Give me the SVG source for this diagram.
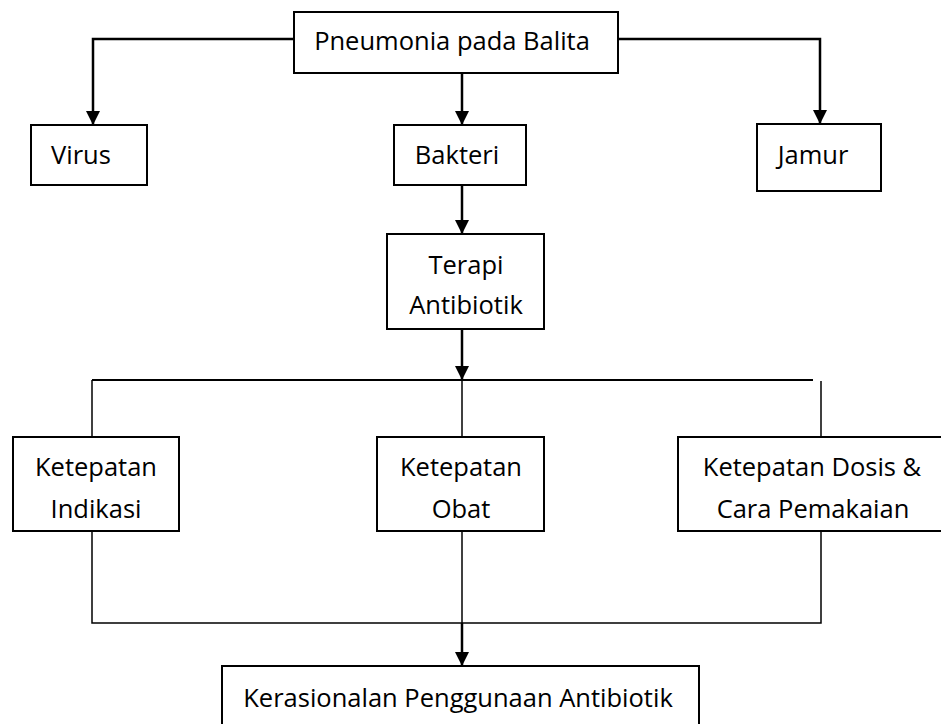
<svg xmlns="http://www.w3.org/2000/svg" width="941" height="724" viewBox="0 0 941 724">
<style>
.box{fill:#fff;stroke:#000;stroke-width:2}
.t{font-family:"Open Sans","Liberation Sans",sans-serif;font-size:25.5px;fill:#000;text-anchor:middle}
.c{fill:none;stroke:#000;stroke-width:2.5}
.thin{fill:none;stroke:#000;stroke-width:1.5}
</style>
<defs>
<marker id="ah" markerUnits="userSpaceOnUse" markerWidth="14" markerHeight="14" viewBox="0 0 14 14" refX="14" refY="7" orient="auto"><path d="M0,0 L14,7 L0,14 z" fill="#000"/></marker>
</defs>
<rect width="941" height="724" fill="#fff"/>
<g id="connectors">
<path class="c" d="M294,39 H93 V125" marker-end="url(#ah)"/>
<path class="c" d="M618,39 H820 V124" marker-end="url(#ah)"/>
<path class="c" d="M462,73 V125" marker-end="url(#ah)"/>
<path class="c" d="M462,185 V234" marker-end="url(#ah)"/>
<path class="c" d="M462,329 V380" marker-end="url(#ah)"/>
<path class="c" d="M92,380 H813" style="stroke-width:2"/>
<path class="thin" d="M92,380 V437"/>
<path class="thin" d="M462,380 V437"/>
<path class="thin" d="M821,381 V437"/>
<path class="thin" d="M92,531 V623 H821 V531"/>
<path class="thin" d="M462,531 V623"/>
<path class="c" d="M462,623 V666" marker-end="url(#ah)"/>
</g>
<g id="n-pneumonia"><rect class="box" x="294" y="12" width="324" height="61"/><text class="t" x="452" y="50">Pneumonia pada Balita</text></g>
<g id="n-virus"><rect class="box" x="31" y="125" width="116" height="60"/><text class="t" x="81" y="164">Virus</text></g>
<g id="n-bakteri"><rect class="box" x="394" y="125" width="132" height="60"/><text class="t" x="457" y="164">Bakteri</text></g>
<g id="n-jamur"><rect class="box" x="757" y="124" width="124" height="67"/><text class="t" x="813" y="164">Jamur</text></g>
<g id="n-terapi"><rect class="box" x="387" y="234" width="157" height="95"/><text class="t" x="466" y="274">Terapi</text><text class="t" x="466" y="314">Antibiotik</text></g>
<g id="n-indikasi"><rect class="box" x="13" y="437" width="166" height="94"/><text class="t" x="96" y="476">Ketepatan</text><text class="t" x="96" y="518">Indikasi</text></g>
<g id="n-obat"><rect class="box" x="377" y="437" width="167" height="94"/><text class="t" x="461" y="476">Ketepatan</text><text class="t" x="461" y="518">Obat</text></g>
<g id="n-dosis"><rect class="box" x="678" y="437" width="275" height="94"/><text class="t" x="812" y="476">Ketepatan Dosis &amp;</text><text class="t" x="813" y="518">Cara Pemakaian</text></g>
<g id="n-kerasionalan"><rect class="box" x="222" y="666" width="477" height="70"/><text class="t" x="458" y="707">Kerasionalan Penggunaan Antibiotik</text></g>
</svg>
